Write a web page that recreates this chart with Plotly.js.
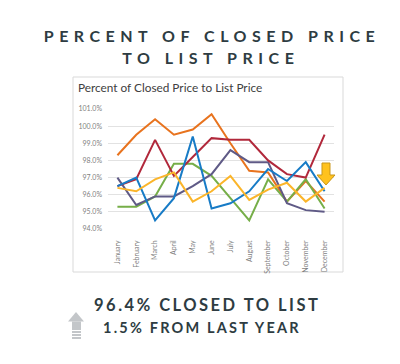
<!DOCTYPE html>
<html>
<head>
<meta charset="utf-8">
<script src="https://cdn.plot.ly/plotly-3.0.1.min.js"></script>
<style>
  html, body { margin: 0; padding: 0; background: #ffffff; }
  #chart { width: 400px; height: 364px; }
  g.annotation[data-index="1"] text, g.annotation[data-index="2"] text { letter-spacing: 5.5px; }
  g.annotation[data-index="3"] text { letter-spacing: 2.5px; }
  g.annotation[data-index="4"] text { letter-spacing: 2.2px; }
</style>
</head>
<body>
<div id="chart"></div>
<script>
const months = ["January","February","March","April","May","June","July","August","September","October","November","December"];
const tickVals = [94, 95, 96, 97, 98, 99, 100, 101];
const tickText = ["94.0%","95.0%","96.0%","97.0%","98.0%","99.0%","100.0%","101.0%"];

const seriesOrange = [98.3, 99.5, 100.4, 99.5, 99.8, 100.7, 99.0, 97.4, 97.3, 95.6, 96.8, 95.6];
const seriesRed    = [96.5, 96.9, 99.2, 97.1, 98.2, 99.3, 99.2, 99.2, 98.0, 97.2, 97.0, 99.5];
const seriesBlue   = [96.5, 97.0, 94.5, 95.8, 99.4, 95.2, 95.5, 96.2, 97.5, 96.8, 97.9, 96.2];
const seriesGreen  = [95.3, 95.3, 95.9, 97.8, 97.8, 97.1, 95.8, 94.5, 96.9, 95.6, 96.9, 95.2];
const seriesPurple = [97.0, 95.4, 95.9, 95.9, 96.5, 97.2, 98.6, 97.9, 97.9, 95.5, 95.1, 95.0];
const seriesYellow = [96.4, 96.2, 96.9, 97.3, 95.6, 96.2, 97.1, 95.7, 96.3, 96.7, 95.6, 96.4];

const W = 400, H = 364;
const M = { l: 108, r: 66, t: 109, b: 135 };
const pw = W - M.l - M.r, ph = H - M.t - M.b;
const X = px => (px - M.l) / pw;
const Y = py => (H - M.b - py) / ph;

function line(name, y, color) {
  return { type: 'scatter', mode: 'lines', name: name, x: months, y: y,
           line: { color: color, width: 2 }, hoverinfo: 'y' };
}

const data = [
  line('Series 1', seriesOrange, '#E8731E'),
  line('Series 2', seriesGreen, '#76AE48'),
  line('Series 3', seriesPurple, '#5F5A86'),
  line('Series 4', seriesRed, '#B1283B'),
  line('Series 5', seriesBlue, '#177BC6'),
  line('Series 6', seriesYellow, '#FBB52A')
];

function P(pts) {
  return pts.map((p, i) => (i ? 'L' : 'M') + X(p[0]).toFixed(5) + ',' + Y(p[1]).toFixed(5)).join(' ') + ' Z';
}

const textColor = '#2E3C42';
const shapes = [
  { type: 'rect', xref: 'paper', yref: 'paper', layer: 'below',
    x0: X(73), x1: X(343), y0: Y(272), y1: Y(77),
    line: { color: '#D9D9D9', width: 1 }, fillcolor: '#FFFFFF' },
  // yellow down arrow
  { type: 'path', xref: 'paper', yref: 'paper', layer: 'above',
    path: P([[322,163],[330,163],[330,175],[335,175],[326,185],[317,175],[322,175]]),
    line: { color: '#C9961A', width: 1 }, fillcolor: '#FFC21E' },
  // gray up arrow head
  { type: 'path', xref: 'paper', yref: 'paper',
    path: P([[76,312],[84,321.5],[68,321.5]]),
    line: { width: 0 }, fillcolor: '#C3C6C9' },
  { type: 'rect', xref: 'paper', yref: 'paper',
    x0: X(72), x1: X(81), y0: Y(328), y1: Y(321.5),
    line: { width: 0 }, fillcolor: '#C3C6C9' }
];
// striped part of the up arrow
const stripeTops = [328, 331, 334, 337];
stripeTops.forEach(t => shapes.push({ type: 'rect', xref: 'paper', yref: 'paper',
  x0: X(72), x1: X(81), y0: Y(t + 2), y1: Y(t),
  line: { width: 0 }, fillcolor: '#C3C6C9' }));

const annotations = [
  { text: 'Percent of Closed Price to List Price', xref: 'paper', yref: 'paper',
    x: X(76), y: Y(87), xanchor: 'left', yanchor: 'middle', showarrow: false,
    font: { family: 'Lato, sans-serif', size: 11.8, color: '#404040' } },
  { text: 'PERCENT OF CLOSED PRICE', xref: 'paper', yref: 'paper',
    x: X(212), y: Y(35), xanchor: 'center', yanchor: 'middle', showarrow: false,
    font: { family: 'Lato, sans-serif', size: 16, color: textColor, weight: 'bold' } },
  { text: 'TO LIST PRICE', xref: 'paper', yref: 'paper',
    x: X(211), y: Y(57), xanchor: 'center', yanchor: 'middle', showarrow: false,
    font: { family: 'Lato, sans-serif', size: 16, color: textColor, weight: 'bold' } },
  { text: '96.4% CLOSED TO LIST', xref: 'paper', yref: 'paper',
    x: X(207), y: Y(305), xanchor: 'center', yanchor: 'middle', showarrow: false,
    font: { family: 'Lato, sans-serif', size: 16.5, color: textColor, weight: 'bold' } },
  { text: '1.5% FROM LAST YEAR', xref: 'paper', yref: 'paper',
    x: X(202), y: Y(327), xanchor: 'center', yanchor: 'middle', showarrow: false,
    font: { family: 'Lato, sans-serif', size: 14.5, color: textColor, weight: 'bold' } }
];

const layout = {
  width: W, height: H,
  margin: M,
  paper_bgcolor: '#FFFFFF', plot_bgcolor: '#FFFFFF',
  showlegend: false,
  xaxis: {
    type: 'category', range: [-0.5, 11.5], showgrid: false, zeroline: false,
    showline: false, ticks: '', tickangle: -90, ticklabelstandoff: 9,
    tickfont: { family: 'Lato, sans-serif', size: 7, color: '#7F7F7F' }
  },
  yaxis: {
    range: [94, 101], tickvals: tickVals, ticktext: tickText,
    showgrid: true, gridcolor: '#E2E2E2', gridwidth: 1, zeroline: false,
    showline: false, ticks: '', ticklabelstandoff: 5,
    tickfont: { family: 'Lato, sans-serif', size: 7, color: '#7F7F7F' }
  },
  shapes: shapes,
  annotations: annotations
};

Plotly.newPlot('chart', data, layout, { displayModeBar: false, staticPlot: true });
</script>
</body>
</html>
